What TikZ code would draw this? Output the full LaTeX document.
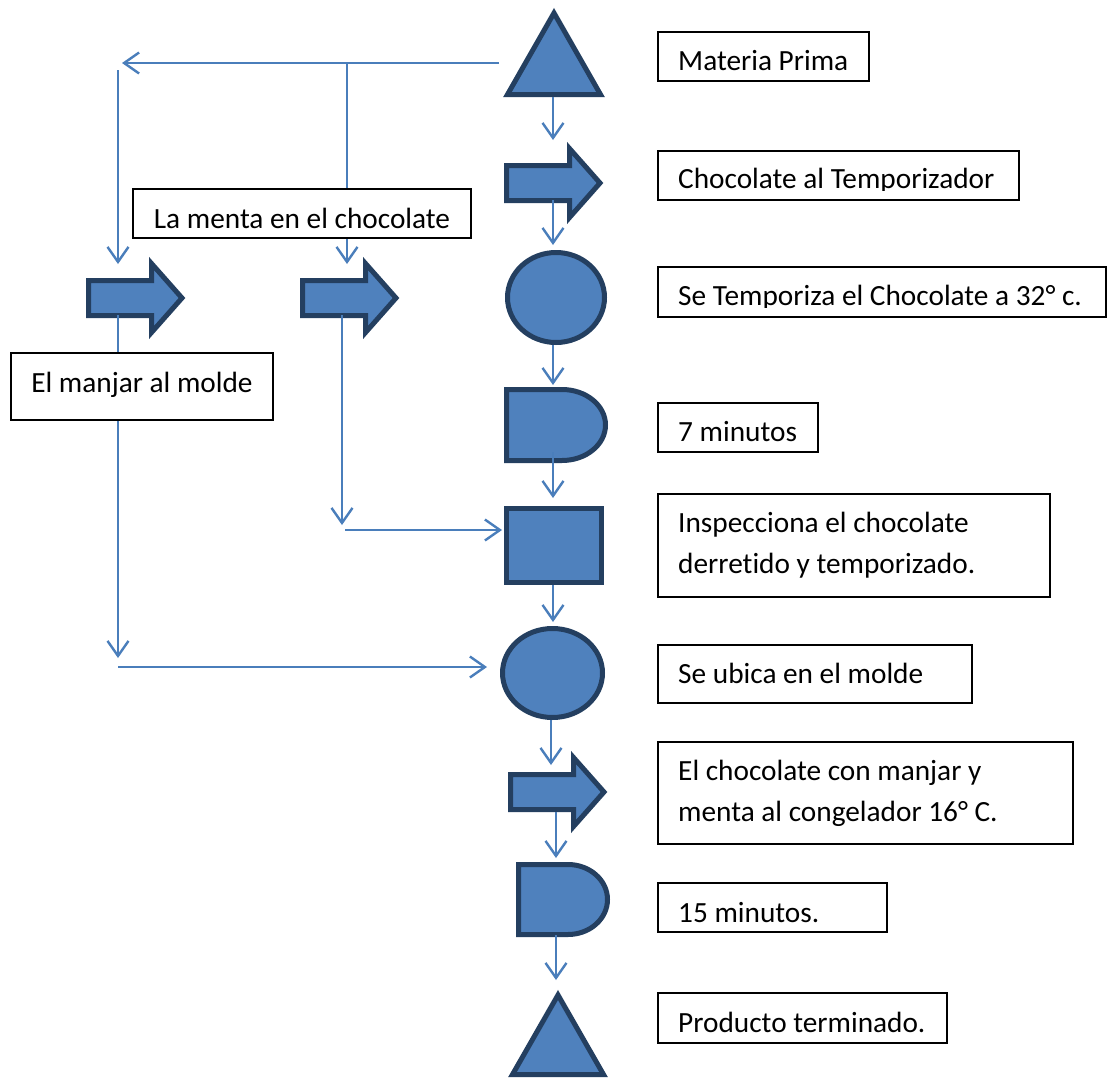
\documentclass[tikz,border=0pt]{standalone}
\usepackage{fontspec}
\setmainfont{Carlito}[Ligatures=NoCommon]
\usetikzlibrary{arrows.meta}
\definecolor{shapefill}{HTML}{4F81BD}
\definecolor{shapeedge}{HTML}{243F60}
\definecolor{flowline}{HTML}{4A7EBB}
\begin{document}
\begin{tikzpicture}[x=1pt,y=-1pt,
  shp/.style={fill=shapefill, draw=shapeedge, line width=5pt},
  flow/.style={draw=flowline, line width=2.4pt, -{Straight Barb[length=15pt,width=21pt]}},
  tbox/.style={draw=black, line width=1.1pt, fill=white},
  lbl/.style={inner sep=0pt, font=\fontsize{29.3}{41}\selectfont},
  blockarrow/.pic={\path[shp] (0,-17.5) -- (63,-17.5) -- (63,-34.5) -- (93.5,0)
      -- (63,34.5) -- (63,17.5) -- (0,17.5) -- cycle;}
]
\fill[white] (0,0) rectangle (1112,1079);
\useasboundingbox (0,0) rectangle (1112,1079);

% ---------- main column of process symbols ----------
\path[shp] (554,13) -- (600.5,94.5) -- (507.5,94.5) -- cycle;                 % raw material
\pic (ba1) at (506.5,183) {blockarrow};                                      % transport
\path[shp] (556,297.5) ellipse [x radius=48.5, y radius=45];                 % operation
\path[shp] (506.5,389.5) -- (562,389.5) arc[start angle=-90, end angle=90, x radius=43.5, y radius=35.5]
   -- (506.5,460.5) -- cycle;                                                 % delay
\path[shp] (506.5,508.5) rectangle (601.5,582.5);                            % inspection
\path[shp] (552.5,673) ellipse [x radius=50, y radius=44.5];                 % operation
\pic (ba2) at (510.5,792) {blockarrow};                                      % transport
\path[shp] (518.5,864.5) -- (568,864.5) arc[start angle=-90, end angle=90, x radius=39.5, y radius=35]
   -- (518.5,934.5) -- cycle;                                                 % delay
\path[shp] (558,995) -- (603.5,1074.5) -- (512.5,1074.5) -- cycle;           % finished product

% ---------- side branch symbols ----------
\pic (baA) at (88.5,298) {blockarrow};
\pic (baB) at (302.5,298) {blockarrow};

% ---------- connector end points ----------
\coordinate (t1s) at (553,97);   \coordinate (ba1n) at (553,140);
\coordinate (ba1s) at (553,200); \coordinate (c1n) at (553,245);
\coordinate (c1s) at (553,345);  \coordinate (d1n) at (553,385);
\coordinate (d1s) at (553,452);  \coordinate (sqn) at (553,498);
\coordinate (sqs) at (553,585);  \coordinate (c2n) at (553,622);
\coordinate (c2s) at (551,720);  \coordinate (ba2n) at (551,765);
\coordinate (ba2s) at (556,812); \coordinate (d2n) at (556,858);
\coordinate (d2s) at (556,935);  \coordinate (t2n) at (556,980);

\coordinate (t1w) at (499,63);   \coordinate (topl) at (122,63);
\coordinate (fork) at (347,63);  \coordinate (baBn) at (347,264);
\coordinate (leftt) at (118,70); \coordinate (baAn) at (118,264);
\coordinate (baAs) at (118,315); \coordinate (lowl) at (118,658);
\coordinate (lowr) at (118,667); \coordinate (c2w) at (487,667);
\coordinate (baBs) at (342,315); \coordinate (midl) at (342,525);
\coordinate (midr) at (345,530); \coordinate (sqw) at (502,530);

% ---------- connectors ----------
\draw[flow] (t1s) -- (ba1n);
\draw[flow] (ba1s) -- (c1n);
\draw[flow] (c1s) -- (d1n);
\draw[flow] (d1s) -- (sqn);
\draw[flow] (sqs) -- (c2n);
\draw[flow] (c2s) -- (ba2n);
\draw[flow] (ba2s) -- (d2n);
\draw[flow] (d2s) -- (t2n);

\draw[flow] (t1w) -- (topl);
\draw[flow] (fork) -- (baBn);
\draw[flow] (leftt) -- (baAn);
\draw[flow] (baAs) -- (lowl);
\draw[flow] (lowr) -- (c2w);
\draw[flow] (baBs) -- (midl);
\draw[flow] (midr) -- (sqw);

% ---------- side labels ----------
\draw[tbox] (133,189) rectangle (471,238);
\node[lbl, anchor=base] (menta) at (302,228) {La menta en el chocolate};
\draw[tbox] (11,353) rectangle (273,420);
\node[lbl, anchor=base] (manjar) at (142,392) {El manjar al molde};

% ---------- step descriptions ----------
\draw[tbox] (658,32) rectangle (869,81);
\node[lbl, anchor=base west] (s1) at (678,70) {Materia Prima};

\draw[tbox] (658,151) rectangle (1019,200);
\begin{scope}
  \clip (658,151) rectangle (1019,190);
  \node[lbl, anchor=base west] (s2) at (678,188) {Chocolate al Temporizador};
\end{scope}

\draw[tbox] (658,267) rectangle (1106,317);
\begin{scope}
  \clip (658,267) rectangle (1106,307);
  \node[lbl, anchor=base west] (s3) at (678,305) {Se Temporiza el Chocolate a 32° c.};
\end{scope}

\draw[tbox] (658,403) rectangle (818,452);
\node[lbl, anchor=base west] (s4) at (678,441) {7 minutos};

\draw[tbox] (658,494) rectangle (1050,597);
\node[lbl, anchor=base west] (s5) at (678,532)
  {\begin{tabular}[t]{@{}l@{}}Inspecciona el chocolate\\derretido y temporizado.\end{tabular}};

\draw[tbox] (658,645) rectangle (972,703);
\node[lbl, anchor=base west] (s6) at (678,683) {Se ubica en el molde};

\draw[tbox] (658,742) rectangle (1073,844);
\node[lbl, anchor=base west] (s7) at (678,780)
  {\begin{tabular}[t]{@{}l@{}}El chocolate con manjar y\\menta al congelador 16° C.\end{tabular}};

\draw[tbox] (658,883) rectangle (887,932);
\node[lbl, anchor=base west] (s8) at (678,922) {15 minutos.};

\draw[tbox] (658,993) rectangle (947,1043);
\node[lbl, anchor=base west] (s9) at (678,1032) {Producto terminado.};
\end{tikzpicture}
\end{document}
